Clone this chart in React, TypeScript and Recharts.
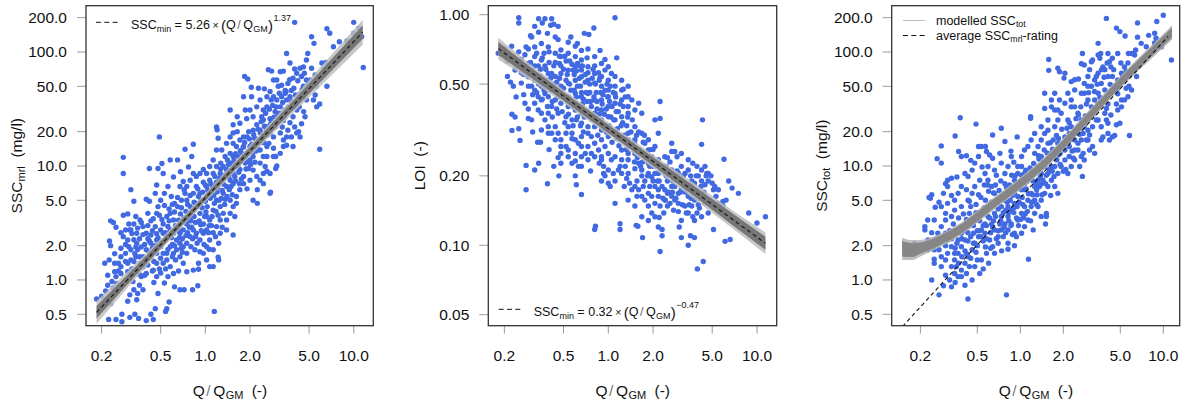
import React from 'react';
import { ComposedChart, Scatter, Area, Line, XAxis, YAxis } from 'recharts';

const FONT = '"Liberation Sans", Arial, Helvetica, sans-serif';
const BLUE = '#4169E1';

const xTicks = [0.2, 0.5, 1, 2, 5, 10];
const sscTicks = [0.5, 1, 2, 5, 10, 20, 50, 100, 200];
const loiTicks = [0.05, 0.1, 0.2, 0.5, 1];

// Panel 1: SSC_mrl vs Q/QGM
const mrlPoints: [number, number][] = [
  [0.185,0.68],[0.223,0.45],[0.25,0.45],[0.274,0.43],[0.274,0.5],[0.31,0.47],[0.335,0.5],[0.355,0.46],[0.40,0.44],[0.43,0.5],[0.446,0.45],[0.46,0.56],[0.54,0.53],[0.55,0.56],[0.57,0.64],[1.15,0.53],[0.3,0.65],[0.345,0.67],
  [0.213,0.8],[0.22,1.1],[0.21,1.4],[0.225,1.5],[0.23,2.0],[0.226,2.2],[0.23,3.3],[0.24,3.2],[0.25,2.9],[0.245,1.4],[0.245,1.7],[0.27,1.9],[0.28,2.4],[0.28,3.7],[0.28,8.6],[0.28,11.9],[0.315,6.2],[0.33,4.9],[0.34,3.6],[0.3,3.8],[0.31,2.75],[0.33,2.25],[0.335,1.7],[0.315,1.5],[0.3,1.4],[0.27,1.14],[0.245,1.18],[0.266,0.9],[0.31,0.74],[0.35,0.76],[0.36,0.9],[0.38,0.82],[0.37,1.07],[0.4,1.14],[0.41,1.35],[0.43,1.6],[0.37,1.95],[0.4,2.57],[0.38,2.94],[0.363,3.36],[0.41,3.84],[0.42,4.9],[0.46,5.75],[0.47,6.8],[0.42,9.5],[0.48,9.5],[0.49,18],[0.51,10.5],[0.52,8.6],[0.58,11.3],[0.61,8],[0.65,11.3],[0.68,8.9],[0.73,14],[0.83,15.5],[0.81,12.1],[0.77,9.8],[0.71,7.3],[0.675,6.6],
  [0.5,2.75],[0.52,3.1],[0.55,3.6],[0.58,3.84],[0.61,3.36],[0.64,2.94],[0.675,2.57],[0.71,2.75],[0.75,3.1],[0.79,3.6],[0.83,4.1],[0.87,4.7],[0.92,3.84],[0.97,3.1],[1.02,2.75],[1.07,3.36],[1.13,4.1],[1.19,5.0],[1.26,4.4],[1.32,5.75],[1.39,6.6],[1.47,7.5],[1.54,8.6],[0.5,1.96],[0.52,1.71],[0.55,1.5],[0.58,1.31],[0.61,1.14],[0.64,1.84],[0.675,1.6],[0.71,1.4],[0.62,0.87],[0.675,0.82],[0.72,0.82],[0.82,0.82],[0.89,0.89],[0.9,1.24],[0.83,1.22],[0.75,1.18],[0.56,1.07],[0.53,0.94],[0.48,0.76],[0.47,1.07],[0.446,1.22],[0.47,1.71],[0.47,2.24],[0.46,2.94],[0.446,3.45],
  [0.92,1.77],[1.02,1.96],[1.07,2.24],[1.13,1.84],[1.23,2.1],[1.13,1.31],[1.23,1.5],[1.13,2.6],[1.26,2.57],[1.39,2.75],[1.54,2.48],[1.58,3.6],[1.54,4.4],[1.47,5.0],[1.62,5.4],[1.71,6.2],[1.81,7.0],[1.91,6.3],[2.0,7.5],[2.1,9.2],[2.22,8.1],[2.46,8.6],[2.6,9.0],[2.73,5.75],[2.24,6.2],[2.0,11.3],[1.91,12.9],[1.81,14.8],[1.71,16.9],[1.91,18],[2.1,14.8],[2.22,16.9],[2.34,13.8],[2.46,12.1],[2.6,14.8],[2.88,14.3],[3.03,10],[2.98,12.1],[2.73,19.5],[2.6,22.1],[2.46,25.3],[2.22,23],[2.1,20.6],[1.96,20],[1.81,18],[1.64,20],[1.54,19.5],[1.47,18],[1.39,15.8],[1.29,13.8],[1.19,13.8],[1.22,17.5],[1.19,22],[1.2,20.8],[1.47,31],[1.9,26],[2.1,27],[2.34,20.6],[1.81,40.5],[2.05,40.5],[1.84,61],[1.93,58],[2.04,49],[2.28,48],[2.5,47.5],[2.66,70],[2.8,68],[2.88,56.8],[3.03,56.8],[3.1,50],[3.27,51],[3.2,67],[3.36,68],[3.53,97],[3.72,80],[4.0,71],[3.9,59],[4.35,72],[4.58,74],[4.8,85],[4.9,97],[5.4,119],[5.2,136],[6.1,80],[6.6,50],[5.5,42],[5.63,33],[5.9,35],[5.35,38],[4.7,27],[4.13,31],[4.35,38],[3.72,40.5],[3.45,43.4],[3.2,33],[2.95,30],[2.78,38],[2.6,33],[2.46,31],[3.9,27],[4.0,22],[4.13,19.5],[4.35,18],[3.72,24],[3.53,18],[3.36,14.8],[3.53,15.2],[3.9,14.8],[3.2,19.5],[2.95,22],[2.73,26],[3.36,25],[4.35,43],[4.58,50],[4.8,56.8],[4.45,61],[4.13,65],[3.8,46],[3.6,53],[4.8,38],[5.1,56.8],[5.9,14],[2.75,5.9],[2.98,9.5],
  [7.3,111],[8.0,123],[9.0,125],[6.9,146],[10,146],[10.8,162],[10.5,127],[11.3,136],[6.5,81],[6.3,71],[5.6,50],[4.0,182],[10.0,182],[6.6,160],[11.6,73],
  [0.22,0.9],[0.235,0.97],[0.25,1.07],[0.253,0.93],[0.26,1.4],[0.27,1.31],[0.29,1.45],[0.29,1.71],[0.305,1.96],[0.3,2.24],[0.29,2.75],[0.305,3.1],[0.315,2.75],[0.33,3.1],[0.345,2.57],[0.345,2.1],[0.315,1.84],[0.363,1.4],[0.38,1.6],[0.4,1.84],[0.345,1.22],[0.325,0.97],[0.31,1.07],[0.29,1.0],[0.41,3.0],[0.43,2.48],[0.43,2.1],[0.47,3.84],[0.48,4.4],[0.5,5.0],[0.53,5.75],[0.56,6.6],[0.59,5.4],[0.62,4.7],[0.65,4.4],[0.69,5.0],[0.73,5.75],[0.75,5.0],[0.79,4.4],[0.83,5.75],[0.87,6.6],[0.92,5.75],[0.97,7.2],[1.02,6.6],[1.07,7.5],[1.13,8.6],[1.19,7.2],[1.26,8.6],[1.32,9.9],[1.39,9.3],[1.47,10.6],[1.54,12.1],[1.62,10.6],[1.71,9.3],[1.81,8.1],[1.54,7.0],[1.62,4.7],[1.47,3.84],[1.39,3.36],[1.32,3.84],[1.26,3.36],[1.19,2.94],[1.02,3.6],[0.97,2.57],[0.92,2.24],[0.87,2.57],[0.83,2.75],[0.79,2.4],[0.75,2.1],[0.71,1.96],[0.675,2.1],[0.64,2.24],[0.61,2.57],[0.58,2.75],[0.55,2.4],[0.52,2.57],[0.58,1.96],[0.61,1.71],[0.55,1.71],[0.75,1.71],[0.8,1.96],[0.85,1.84],[0.9,1.4],[0.97,1.71],[1.02,1.5],[1.06,1.86],[1.22,1.58],[1.07,1.31],[0.4,5.1],
  [2.1,5.0],[2.24,4.7],[2.34,7.5],[2.46,7.0],[2.53,9.9],[2.73,8.6],[2.88,12.1],[3.2,12.9],[3.36,16.9],[3.6,20.6],[3.8,18],[4.25,20],[4.45,23.5],[4.6,30],[3.9,35],[3.53,38],[3.45,31],[3.03,27],[2.88,18],[2.6,12.1],[2.34,10.6],[2.1,12.1],[1.96,9.5],[1.86,10.6],[1.76,12.9],[1.62,14.8],[1.54,15.8],[1.47,12.9],[1.36,12.1],[1.27,10.6],[1.19,9.9],[1.13,11.3],[1.07,9.9],[1.02,8.6],[0.97,9.3],[0.92,8.6],[0.87,8.1],[0.83,8.6],[0.79,7.5],[0.75,6.6],[1.54,23],[1.71,23.7],[1.64,27],[1.86,31],[2.0,31],[2.22,33],[2.34,38],[2.4,27],[2.6,40.5],[2.73,45],[2.88,40.5],[3.03,38],[3.27,40.5],[3.45,46],
];
const mrlPointsCore: [number, number][] = [
  [0.32,1.25],[0.34,1.6],[0.36,2.3],[0.38,1.3],[0.39,2.05],[0.42,1.75],[0.44,2.7],[0.45,1.45],[0.48,2.35],[0.49,1.25],[0.51,3.4],[0.53,2.2],[0.54,1.25],[0.56,2.95],[0.57,4.2],[0.6,2.05],[0.62,3.95],[0.63,1.5],[0.66,3.35],[0.67,2.35],[0.69,4.3],[0.7,1.75],[0.72,3.5],[0.74,2.45],[0.76,4.6],[0.78,2.9],[0.8,3.3],[0.82,2.3],[0.84,4.8],[0.86,3.2],[0.88,2.1],[0.9,5.4],[0.93,3.05],[0.95,4.3],[0.98,2.05],[1.0,4.9],[1.01,3.95],[1.04,6.1],[1.05,2.6],[1.08,5.2],[1.1,3.0],[1.12,6.6],[1.15,4.7],[1.17,2.4],[1.2,5.9],[1.22,3.7],[1.25,7.8],[1.28,5.2],[1.3,2.9],[1.33,6.9],[1.35,4.6],[1.37,8.4],[1.4,5.4],[1.43,10.3],[1.45,6.2],[1.5,9.2],[1.52,5.6],[1.56,11.1],[1.6,7.4],[1.65,12.2],[1.68,8.8],[1.72,13.6],[1.75,7.7],[1.78,11.6],[1.84,16.1],[1.88,9.4],[1.93,13.2],[1.98,17.3],[2.02,10.3],[2.06,15.5],[2.12,18.8],[2.16,10.8],[2.2,13.5],[2.27,21.0],[2.3,15.8],[2.38,24.5],[2.43,17.8],[2.5,22.3],[2.55,29],[2.62,18.7],[2.7,31.5],[2.76,23.6],[2.84,34],[2.9,26.8],[3.0,33],[3.08,24.5],[3.15,43.5],[3.25,29],[3.32,36],[3.42,27],[3.5,45],[3.62,33],[3.7,57],[3.82,37],[3.95,48],[4.05,42],[4.2,56],[4.3,33],[4.5,47],[4.65,65],[4.95,52],[5.2,72],[5.5,63],
  [0.2,0.72],[0.23,0.62],[0.24,0.85],[0.26,1.2],[0.27,1.6],[0.28,0.95],[0.3,1.18],[0.33,0.82],[0.36,1.12],[0.27,2.6],[0.29,2.05],[0.32,2.55],[0.34,1.95],[0.35,2.85],[0.37,3.2],[0.42,2.2],[0.44,1.9],[0.5,1.15],[0.45,0.95],[0.52,1.4],
  [0.41,2.3],[0.43,3.3],[0.46,2.0],[0.47,2.55],[0.49,3.7],[0.5,1.55],[0.51,2.15],[0.53,4.5],[0.54,2.6],[0.56,1.85],[0.57,3.3],[0.59,2.35],[0.6,4.6],[0.62,2.0],[0.63,3.0],[0.65,5.3],[0.66,2.7],[0.68,3.8],[0.69,1.9],[0.71,3.4],[0.72,6.2],[0.74,4.0],[0.76,2.6],[0.77,3.4],[0.79,5.5],[0.81,2.9],[0.82,4.2],[0.84,3.6],[0.86,2.4],[0.88,4.4],[0.89,6.3],[0.91,3.3],[0.93,4.9],[0.94,2.7],[0.96,5.9],[0.99,3.6],[1.0,6.8],[1.03,4.4],[1.05,5.7],[1.06,3.0],[1.09,7.0],[1.11,3.6],[1.14,5.5],[1.16,8.1],[1.18,4.0],[1.21,6.5],[1.24,5.0],[1.27,9.4],[1.3,6.1],[1.34,7.9],[1.36,5.1],[1.41,11.3],[1.44,8.1],[1.49,6.6],[1.53,10.2],[1.58,8.1],[1.6,12.8],[1.66,10.0],[1.7,7.0],[1.74,11.0],[1.8,14.6],[1.85,12.0],[1.95,11.0],[2.0,14.8],[2.08,12.9],[2.15,17.5],[2.25,14.0],[2.35,19.5],[2.48,16.0],[2.58,20.5],[2.68,15.8],[2.8,25],[3.1,29],[3.3,22],[0.36,1.6],[0.38,2.5],[0.39,1.1],[0.33,1.45],[0.35,1.85],[0.44,1.2],[0.47,1.4],[0.6,1.6],[0.66,1.2],[0.7,2.3],
];

// Panel 2: LOI vs Q/QGM
const loiPoints: [number, number][] = [
  [0.25,0.97],[0.25,0.92],[0.34,0.96],[0.375,0.96],[0.416,0.96],[1.11,0.97],[0.8,0.875],[0.74,0.82],[0.41,0.9],[0.43,0.91],[0.46,0.89],[0.36,0.92],[0.305,0.8],[0.34,0.84],[0.32,0.89],[0.39,0.83],[0.44,0.8],[0.46,0.78],[0.538,0.76],[0.6,0.73],[0.66,0.7],[0.73,0.71],[0.88,0.7],[1.14,0.65],[0.95,0.64],[0.81,0.6],[0.72,0.65],[0.62,0.615],[0.58,0.575],[0.52,0.63],[0.47,0.615],
  [0.182,0.68],[0.2,0.71],[0.224,0.73],[0.21,0.54],[0.22,0.51],[0.23,0.49],[0.24,0.6],[0.26,0.64],[0.275,0.67],[0.29,0.71],[0.25,0.69],[0.275,0.6],[0.29,0.49],[0.305,0.49],[0.32,0.52],[0.275,0.413],[0.225,0.37],[0.236,0.36],[0.225,0.315],[0.25,0.32],[0.255,0.285],[0.29,0.355],[0.305,0.35],[0.28,0.222],[0.28,0.174],[0.32,0.212],[0.34,0.227],[0.335,0.28],[0.39,0.185],[0.43,0.22],[0.465,0.2],[0.48,0.227],[0.57,0.227],[0.6,0.2],[0.61,0.183],[0.66,0.166],[0.66,0.22],[0.81,0.117],[0.82,0.121],[0.87,0.227],[0.93,0.205],[1.0,0.186],[1.11,0.152],[1.2,0.124],[1.2,0.117],[1.54,0.122],[1.58,0.121],[1.7,0.108],[2.23,0.094],[2.3,0.11],[2.3,0.117],[2.17,0.12],[3.1,0.108],[3.45,0.1],[3.57,0.11],[3.8,0.108],[3.97,0.079],[4.35,0.085],[6.1,0.104],[6.6,0.106],[8.8,0.138],[10,0.125],[11.4,0.133],[7.5,0.168],[6.8,0.177],[6.0,0.236],[6.45,0.19],[6.2,0.157],[5.9,0.155],[5.5,0.174],[5.1,0.174],[4.7,0.205],[4.47,0.22],[4.24,0.274],[4.3,0.35],[5.1,0.117],[4.7,0.138],[4.24,0.133],[3.8,0.128],[3.45,0.138],[3.1,0.128],[3.0,0.12],[2.96,0.14],[2.8,0.157],[2.67,0.18],[2.5,0.19],[2.4,0.205],[2.3,0.18],[2.17,0.163],[2.06,0.152],[1.96,0.138],[1.86,0.148],[1.76,0.157],[1.68,0.163],[1.6,0.174],[1.51,0.18],[1.44,0.174],[1.36,0.157],[1.51,0.148],[1.68,0.133],[1.86,0.128],[2.06,0.133],[2.23,0.148],[2.4,0.157],[2.6,0.152],[2.8,0.18],[3.1,0.19],[3.28,0.205],[3.45,0.212],[3.64,0.19],[3.8,0.186],[4.03,0.2],[4.24,0.19],[4.47,0.183],[3.8,0.157],[3.45,0.163],[3.28,0.148],[3.64,0.148],[4.03,0.15],[3.1,0.22],[2.9,0.242],[2.67,0.255],[2.4,0.242],[2.17,0.235],[2.0,0.22],[1.86,0.205],[1.76,0.19],[1.68,0.212],[1.6,0.227],[1.51,0.215],[1.36,0.205],[1.3,0.22],[1.23,0.235],[1.17,0.212],[1.11,0.19],[1.05,0.235],[1.0,0.25],[0.95,0.268],[0.9,0.242],[0.86,0.259],[0.81,0.277],[0.77,0.296],[0.73,0.268],[0.7,0.25],[0.66,0.268],[0.63,0.277],[0.6,0.287],[0.57,0.306],[0.538,0.327],[0.52,0.306],[0.48,0.287],[0.46,0.306],[0.44,0.327],[0.416,0.306],[0.395,0.327],[0.375,0.35],[0.355,0.374],[0.338,0.386],[0.32,0.413],[0.355,0.427],[0.395,0.441],[0.44,0.427],[0.48,0.413],[0.538,0.4],[0.6,0.386],[0.66,0.374],[0.73,0.361],[0.81,0.374],[0.9,0.386],[1.0,0.4],[1.11,0.413],[1.23,0.427],[1.36,0.441],[1.36,0.374],[1.23,0.361],[1.11,0.35],[1.0,0.327],[0.9,0.316],[0.81,0.327],[0.73,0.327],[0.66,0.338],[0.61,0.35],[1.11,0.306],[1.23,0.287],[1.36,0.306],[1.51,0.327],[1.68,0.306],[1.86,0.287],[2.06,0.35],[2.17,0.306],[2.23,0.355],[2.23,0.42],[2.06,0.268],[1.86,0.259],[1.68,0.25],[1.51,0.259],[1.36,0.25],[1.23,0.259],[1.36,0.287],[1.51,0.287],[1.68,0.374],[1.51,0.386],[1.36,0.4],[1.23,0.471],[1.11,0.49],[1.0,0.471],[0.9,0.49],[0.81,0.505],[0.73,0.52],[0.66,0.538],[0.6,0.52],[0.538,0.505],[0.48,0.49],[0.44,0.471],[0.395,0.505],[0.355,0.49],[0.32,0.471],[0.395,0.556],[0.44,0.54],[0.48,0.556],[0.538,0.575],[0.6,0.595],[0.66,0.575],[0.73,0.595],[0.81,0.556],[0.9,0.54],[1.0,0.52],[1.05,0.556],[0.95,0.575],[0.88,0.535],[1.11,0.54],[1.23,0.52],[1.3,0.44],[1.44,0.427],[1.6,0.413],[1.36,0.49],[1.26,0.475],[0.355,0.636],[0.32,0.658],[0.29,0.615],[0.44,0.68],[0.48,0.703],[0.538,0.68],[0.6,0.658],[0.66,0.636],[0.81,0.658],[0.9,0.615],[1.0,0.595],[0.395,0.725],[0.355,0.75],[0.32,0.725],[0.3,0.81],[0.28,0.725],[0.56,0.8],[0.62,0.75],[0.69,0.83],[0.48,0.658],[0.416,0.556],[0.375,0.6],[0.338,0.6],[0.305,0.575],[0.29,0.538],[0.26,0.505],[0.236,0.575],[0.32,0.538],[0.355,0.52],[0.375,0.455],[0.338,0.441],[0.416,0.4],[0.46,0.374],[0.52,0.361],[0.57,0.35],[0.395,0.374],[0.355,0.316],[0.395,0.306],[0.44,0.287],[0.48,0.268],[0.538,0.259],[0.6,0.25],[0.66,0.296],[0.73,0.306],[0.9,0.287],[1.0,0.296],[1.0,0.361],[0.9,0.35],[0.81,0.427],[0.9,0.427],[1.0,0.441],[1.11,0.455],[0.73,0.455],[0.66,0.441],[0.6,0.455],[0.538,0.441],[0.48,0.455],[0.9,0.235],[1.0,0.212],[1.11,0.242],[1.23,0.205],[1.36,0.235],[1.51,0.25],[1.76,0.277],[1.96,0.242],[1.76,0.242],[1.86,0.227],[1.96,0.198],[2.17,0.205],[2.06,0.18],[1.9,0.18],[1.72,0.18],[1.56,0.19],[1.96,0.163],[1.86,0.168],[2.17,0.174],[2.4,0.174],[2.5,0.168],[2.67,0.163],[2.96,0.168],[3.1,0.174],[3.28,0.18],[2.8,0.2],[2.96,0.205],[2.67,0.212],[2.45,0.22],[2.67,0.277],[2.8,0.255],[3.1,0.25],[3.45,0.235],[3.7,0.227],[3.95,0.22],[4.24,0.212],[4.6,0.205],[4.7,0.19],[5.0,0.186],[5.3,0.163],[5.5,0.152],[5.9,0.148],[5.0,0.148],[4.7,0.157],[4.47,0.152],[4.1,0.145],[3.95,0.138],[3.7,0.133],[3.35,0.138],[2.96,0.152],[2.75,0.142],[2.5,0.148],[2.36,0.138],[2.2,0.132],[2.42,0.157],[2.06,0.205],[1.68,0.2],[1.56,0.163],[1.39,0.186],[1.33,0.195],[1.28,0.18],[1.2,0.22],[1.08,0.205],[1.03,0.18],[0.93,0.22],[0.9,0.19],[0.81,0.242],[0.77,0.25],[0.73,0.235],[0.66,0.242],[0.6,0.232],[0.538,0.242],[0.48,0.25],[0.52,0.268],
];
const loiPointsCore: [number, number][] = [
  [0.27,0.55],[0.3,0.62],[0.31,0.45],[0.33,0.68],[0.34,0.5],[0.35,0.58],[0.36,0.43],[0.37,0.68],[0.38,0.52],[0.4,0.62],[0.41,0.47],[0.42,0.36],[0.43,0.6],[0.45,0.51],[0.45,0.39],[0.47,0.66],[0.49,0.45],[0.5,0.58],[0.51,0.34],[0.52,0.52],[0.53,0.42],[0.55,0.63],[0.56,0.47],[0.57,0.29],[0.58,0.4],[0.59,0.55],[0.61,0.44],[0.62,0.36],[0.64,0.6],[0.65,0.49],[0.67,0.41],[0.68,0.31],[0.7,0.55],[0.71,0.46],[0.72,0.38],[0.75,0.5],[0.76,0.42],[0.78,0.35],[0.79,0.58],[0.83,0.46],[0.84,0.39],[0.85,0.3],[0.87,0.52],[0.92,0.45],[0.94,0.37],[0.97,0.31],[0.98,0.5],[1.02,0.42],[1.04,0.36],[1.06,0.28],[1.08,0.46],[1.13,0.38],[1.15,0.32],[1.18,0.27],[1.2,0.41],[1.25,0.34],[1.28,0.3],[1.32,0.26],[1.35,0.36],[1.42,0.31],[1.46,0.27],[1.5,0.23],[1.55,0.3],[1.62,0.26],[1.65,0.22],[1.72,0.28],[1.8,0.24],[1.84,0.2],[1.92,0.26],[2.0,0.19],[2.1,0.23],[2.14,0.19],[2.25,0.21],[2.33,0.16],[2.45,0.2],[2.55,0.17],[2.6,0.23],[2.72,0.19],[2.85,0.16],[2.9,0.21],[3.05,0.17],[3.15,0.15],[3.2,0.2],[3.38,0.18],[3.5,0.15],[3.58,0.2],[3.72,0.17],[3.9,0.2],[4.0,0.17],[4.15,0.16],[4.4,0.17],[4.55,0.2],[4.9,0.2],[5.2,0.18],
  [0.24,0.44],[0.27,0.45],[0.29,0.39],[0.31,0.31],[0.26,0.56],[0.23,0.66],[0.21,0.63],[0.35,0.28],[0.4,0.26],[0.46,0.24],[0.63,0.22],[0.76,0.21],[0.95,0.2],
  [0.3,0.55],[0.32,0.6],[0.33,0.46],[0.35,0.54],[0.36,0.65],[0.37,0.47],[0.38,0.58],[0.39,0.4],[0.4,0.69],[0.41,0.53],[0.42,0.42],[0.43,0.5],[0.44,0.62],[0.46,0.44],[0.47,0.53],[0.48,0.6],[0.49,0.38],[0.5,0.48],[0.51,0.66],[0.52,0.44],[0.53,0.55],[0.54,0.37],[0.55,0.5],[0.56,0.42],[0.57,0.61],[0.58,0.33],[0.59,0.47],[0.6,0.41],[0.61,0.57],[0.62,0.49],[0.63,0.39],[0.64,0.53],[0.65,0.33],[0.66,0.46],[0.67,0.6],[0.68,0.43],[0.69,0.36],[0.7,0.51],[0.72,0.42],[0.73,0.56],[0.74,0.37],[0.75,0.46],[0.77,0.4],[0.78,0.53],[0.8,0.44],[0.81,0.35],[0.82,0.5],[0.84,0.42],[0.86,0.56],[0.87,0.37],[0.89,0.46],[0.91,0.41],[0.93,0.33],[0.95,0.47],[0.97,0.39],[0.99,0.44],[1.01,0.33],[1.03,0.49],[1.06,0.4],[1.09,0.35],[1.12,0.44],[1.15,0.29],[1.17,0.38],[1.22,0.33],[1.26,0.4],[1.3,0.29],[1.33,0.33],[1.38,0.27],[1.45,0.35],[1.5,0.28],[1.57,0.24],[1.6,0.31],[1.7,0.23],[1.75,0.3],[1.9,0.22],[2.0,0.26],[2.2,0.19],[2.35,0.22],[2.5,0.24],[2.7,0.17],[3.0,0.19],[3.3,0.17],[3.6,0.16],[4.2,0.18],
];

// Panel 3: SSC_tot vs Q/QGM
const totPoints: [number, number][] = [
  [0.182,2.1],[0.27,0.74],[0.43,0.68],[0.8,0.74],[0.24,1.0],[0.29,0.89],[0.33,0.87],[0.32,1.0],[0.28,1.31],[0.25,1.4],[0.25,1.52],[0.27,1.84],[0.226,1.84],[0.226,2.24],[0.215,2.75],[0.215,2.94],[0.225,3.36],[0.235,5.2],[0.24,5.6],[0.23,5.3],[0.254,4.35],[0.25,3.36],[0.262,11.6],[0.28,10.6],[0.28,15],[0.35,18.3],[0.38,26.5],[0.49,23.3],[0.37,13.4],[0.387,12.1],[0.42,12.3],[0.3,7.0],[0.31,7.5],[0.33,7.8],[0.31,6.6],[0.29,5.75],[0.28,4.4],[0.3,3.84],[0.31,4.7],[0.347,5.0],[0.367,5.75],[0.387,6.6],[0.41,8.6],[0.431,8.1],[0.46,9.2],[0.48,10.6],[0.51,12.1],[0.51,14.8],[0.534,14.8],[0.58,13.4],[0.61,12.5],[0.64,11.7],[0.64,18.7],[0.78,16.4],[0.95,18],[0.736,21.4],[0.57,14.8],[0.594,9.9],[0.66,9.2],[0.736,10.6],[0.78,8.6],[0.82,9.9],[0.865,12.1],[0.96,9.9],[1.02,12.1],[1.07,13.8],[1.13,14.8],[1.19,16.9],[1.26,19.3],[1.18,26.2],[1.18,27],[1.4,22.1],[1.48,19.3],[1.56,25.3],[1.48,43.4],[1.65,37.9],[1.74,31],[1.48,32],[1.58,86],[1.58,69],[1.83,72],[1.88,67],[2.05,65],[2.02,59],[2.27,55],[2.4,57],[2.55,58],[2.67,79],[2.72,97],[2.8,77],[3.14,82],[3.2,85],[3.5,94],[3.6,88],[3.5,119],[3.65,97],[4.0,197],[4.05,80],[3.9,70],[4.1,61],[4.4,61],[4.7,162],[4.97,151],[4.8,97],[5.4,138],[5.7,97],[5.66,80],[6.3,94],[6.6,180],[6.6,135],[6.2,97],[6.5,61],[5.75,50],[6.0,46.5],[5.66,40.5],[5.35,38],[5.1,33],[4.8,31],[4.3,28],[4.1,23.7],[4.7,23],[4.97,23.7],[4.4,18],[4.57,18.5],[3.78,18],[3.68,16.9],[3.05,18.7],[2.9,16.9],[2.75,12.9],[2.8,11.3],[2.72,8.1],[2.4,11.3],[2.67,12.1],[2.53,13.8],[2.27,9.9],[2.15,8.6],[2.05,11.3],[1.93,9.9],[1.83,8.6],[1.74,9.9],[1.65,12.9],[1.56,15.8],[1.7,16.9],[1.83,15.8],[1.93,14.8],[2.05,18],[2.2,19.3],[2.4,16.9],[2.53,22.1],[2.67,25.3],[2.53,29],[2.4,33],[2.27,37.9],[2.15,43.4],[2.8,43.4],[2.97,37.9],[3.14,50],[3.31,56.8],[3.5,65],[3.68,53],[3.9,46.5],[3.5,43.4],[3.14,33],[3.31,29],[3.5,25.3],[3.9,29],[4.1,35],[4.3,43.4],[4.57,50],[4.8,56.8],[5.1,65],[5.35,74],[3.68,37.9],[2.97,25.3],[2.8,22.1],[2.53,19.3],[2.27,22.1],[2.15,25.3],[1.93,29],[1.83,25.3],[1.74,22.1],[1.56,20.6],[1.4,16.9],[1.33,14.8],[1.26,12.9],[1.4,12.1],[1.48,9.9],[1.56,8.6],[1.65,7.5],[1.74,6.6],[1.83,5.75],[1.56,6.6],[1.48,5.75],[1.4,5.0],[1.33,4.4],[1.26,3.84],[1.4,3.6],[1.52,3.84],[1.52,3.6],[1.5,3.1],[1.14,1.52],[1.23,2.75],[1.13,3.36],[1.07,2.94],[1.02,2.57],[0.94,2.4],[0.91,2.0],[0.82,1.86],[0.74,1.8],[0.76,2.4],[0.82,2.75],[0.865,3.1],[0.96,3.36],[1.02,3.84],[1.07,4.4],[1.13,5.0],[1.19,5.75],[1.26,6.6],[1.33,7.5],[1.4,8.6],[1.33,9.9],[1.19,9.2],[1.13,8.1],[1.07,7.0],[1.02,6.2],[0.96,5.4],[0.91,4.7],[0.865,4.1],[0.82,3.6],[0.78,3.1],[0.736,2.75],[0.7,2.4],[0.66,2.75],[0.63,3.1],[0.594,3.6],[0.566,3.1],[0.534,2.75],[0.51,2.4],[0.48,2.1],[0.46,1.84],[0.431,1.6],[0.41,1.4],[0.387,1.22],[0.367,1.07],[0.347,1.14],[0.33,1.31],[0.347,1.5],[0.367,1.71],[0.387,1.96],[0.41,2.24],[0.387,2.57],[0.367,2.24],[0.33,1.96],[0.31,1.71],[0.3,1.5],[0.31,2.24],[0.3,2.57],[0.28,2.94],[0.265,2.57],[0.25,2.24],[0.24,1.96],[0.25,1.84],[0.3,3.36],[0.33,3.6],[0.347,4.1],[0.387,4.4],[0.431,5.0],[0.46,5.75],[0.48,6.6],[0.52,7.5],[0.566,8.6],[0.594,7.5],[0.63,6.6],[0.66,5.75],[0.7,5.0],[0.736,4.4],[0.78,5.0],[0.82,5.75],[0.865,6.6],[0.91,7.5],[0.96,8.6],[1.02,9.9],[1.07,8.6],[1.02,7.5],[0.91,5.75],[0.82,4.4],[0.736,3.6],[0.66,3.84],[0.594,4.4],[0.534,3.84],[0.48,3.36],[0.44,3.84],[0.431,2.94],[0.47,2.57],[0.566,2.57],[0.61,2.24],[0.64,1.96],[0.58,1.71],[0.534,1.5],[0.52,1.14],[0.48,1.31],[0.44,1.31],[0.46,1.0],[0.42,1.14],[0.387,1.07],[0.357,1.31],[0.347,1.71],[0.66,1.71],[0.7,2.1],[0.82,2.1],[0.91,2.57],[1.19,4.4],[1.26,5.0],[1.3,6.2],[1.36,6.6],[1.44,7.5],[1.65,9.9],[1.8,11.3],[1.9,12.9],[2.05,13.8],[2.2,14.8],[2.2,12.1],[2.4,13.8],[2.6,9.9],[2.53,15.8],[2.75,19.3],[2.97,20.6],[3.2,22.1],[3.4,25.3],[3.68,22.1],[4.0,25.3],[4.1,19.3],[4.2,16.9],[3.31,37.9],[2.97,50],[2.67,43.4],[2.4,46.5],[2.27,33],[2.05,35.5],[1.88,37.9],[1.74,43.4],[1.83,31],[1.65,33],[2.97,16.9],[3.2,14.8],[3.31,12.9],[3.05,13.8],[2.67,16.9],[5.8,18.5],
  [8.7,120],[9.7,111],[8.9,132],[7.9,140],[7.6,111],[7.0,119],[8.7,146],[10,210],[9.0,185],[11.4,85],[6.0,97],[6.4,104],[5.8,65],[5.35,57],[5.5,48],[4.8,43],[5.1,38],[4.7,35],[5.2,61],[4.1,97],[4.3,74],[4.2,82],[4.4,88],[3.78,74],[3.7,70],[3.4,61],[2.97,61],[3.05,70],[2.8,53],
];
const totPointsCore: [number, number][] = [
  [0.32,2.7],[0.34,3.1],[0.36,2.1],[0.37,3.5],[0.39,1.6],[0.4,2.7],[0.42,3.4],[0.43,2.2],[0.45,4.4],[0.45,1.55],[0.47,3.0],[0.49,4.6],[0.5,2.0],[0.52,3.3],[0.53,5.3],[0.55,2.2],[0.56,4.3],[0.58,3.0],[0.6,6.0],[0.62,2.6],[0.63,4.8],[0.65,3.3],[0.67,6.8],[0.68,2.3],[0.7,4.2],[0.72,3.1],[0.73,7.4],[0.75,5.3],[0.77,2.9],[0.79,4.1],[0.8,6.5],[0.83,3.3],[0.85,5.0],[0.87,8.3],[0.88,2.5],[0.9,3.9],[0.93,6.3],[0.95,4.4],[0.97,3.0],[0.99,7.3],[1.03,5.3],[1.05,3.5],[1.09,9.2],[1.1,6.3],[1.12,4.0],[1.16,7.6],[1.18,3.3],[1.22,5.6],[1.24,10.5],[1.28,7.0],[1.3,4.6],[1.35,11.5],[1.38,8.0],[1.42,5.6],[1.46,10.8],[1.5,7.0],[1.54,13.0],[1.6,9.3],[1.63,5.5],[1.68,14.0],[1.72,8.1],[1.77,11.8],[1.85,17.4],[1.9,10.3],[1.98,15.4],[2.08,9.3],[2.12,21.4],[2.25,17.0],[2.35,11.7],[2.45,26.0],[2.6,19.0],[2.65,33],[2.85,27.5],[3.0,44],[3.25,31],[3.45,52],[3.6,40],[3.85,60],[4.0,32],[4.25,52],[4.5,70],[4.8,48],[5.05,80],[5.5,68],
  [0.3,2.0],[0.28,1.6],[0.26,2.3],[0.24,2.6],[0.3,1.1],[0.35,0.95],[0.41,0.9],[0.5,1.5],[0.55,1.25],[0.6,1.4],[0.27,4.8],[0.33,5.5],[0.36,8.0],[0.42,6.2],[0.45,11.2],[0.54,9.8],[0.56,6.8],[0.68,8.3],[0.72,12.9],[0.86,13.5],[0.9,10.8],
  [0.38,2.9],[0.4,3.8],[0.41,1.8],[0.43,2.6],[0.44,4.9],[0.46,3.3],[0.47,2.1],[0.49,3.9],[0.5,2.7],[0.51,5.6],[0.53,2.4],[0.54,4.0],[0.55,3.0],[0.57,5.0],[0.58,2.3],[0.59,6.8],[0.61,3.5],[0.62,4.6],[0.64,2.9],[0.65,5.8],[0.67,3.6],[0.69,4.8],[0.7,2.7],[0.71,6.1],[0.73,3.3],[0.74,5.2],[0.76,3.9],[0.78,7.0],[0.79,2.6],[0.81,4.8],[0.83,3.9],[0.84,6.8],[0.86,3.0],[0.88,5.5],[0.9,4.3],[0.92,8.2],[0.94,3.5],[0.96,6.6],[0.98,4.8],[1.0,3.4],[1.02,8.3],[1.04,4.6],[1.06,6.2],[1.08,3.8],[1.11,7.3],[1.14,5.7],[1.17,9.6],[1.2,4.8],[1.23,7.4],[1.27,8.9],[1.31,5.6],[1.34,12.3],[1.39,6.9],[1.43,9.8],[1.47,13.8],[1.52,8.3],[1.57,11.0],[1.62,16.0],[1.67,9.0],[1.73,13.0],[1.79,18.5],[1.86,12.6],[1.95,21.0],[2.0,9.0],[2.1,16.0],[2.2,24.0],[2.3,13.5],[2.4,20.0],[2.55,28.0],[2.7,21.5],[2.9,35],[3.1,27],[3.3,45],[3.5,35],[0.33,2.3],[0.35,1.9],[0.37,1.4],[0.39,2.3],[0.42,1.7],[0.45,2.4],[0.49,1.75],[0.52,2.7],[0.57,1.95],[0.62,1.9],
];

// Fitted rating bands: x, inner band (dark), outer band (light)
const mrlBandX = [0.185, 0.3, 0.5, 1, 2, 4, 7, 11.5];
const mrlInnerLo = [0.458, 0.92, 1.9, 4.97, 12.7, 32.0, 67.5, 130];
const mrlInnerHi = [0.59, 1.11, 2.19, 5.57, 14.6, 38.5, 84.9, 171];
const mrlOuterLo = [0.413, 0.86, 1.82, 4.8, 12.1, 29.9, 61.5, 116];
const mrlOuterHi = [0.655, 1.19, 2.29, 5.76, 15.3, 41.2, 93.1, 192];
const mrlLineX = [0.185, 11.5];
const mrlLineY = [0.52, 149];

const loiBandX = [0.182, 0.3, 0.5, 1, 2, 4, 7, 11.4];
const loiInnerLo = [0.668, 0.535, 0.425, 0.307, 0.222, 0.159, 0.121, 0.0956];
const loiInnerHi = [0.761, 0.592, 0.462, 0.333, 0.241, 0.176, 0.136, 0.109];
const loiOuterLo = [0.64, 0.519, 0.415, 0.3, 0.216, 0.154, 0.117, 0.0916];
const loiOuterHi = [0.794, 0.61, 0.473, 0.341, 0.247, 0.181, 0.14, 0.1136];
const loiLineX = [0.182, 11.4];
const loiLineY = [0.713, 0.102];

const totBandX = [0.149, 0.175, 0.2, 0.25, 0.3, 0.4, 0.5, 0.7, 1.0, 1.5, 2.0, 3.0, 5.0, 7.0, 10, 11.5];
const totInnerLo = [1.61, 1.59, 1.70, 1.91, 2.14, 2.65, 3.28, 4.56, 6.39, 9.85, 14.1, 24.6, 49.3, 74.5, 114, 133];
const totInnerHi = [2.20, 2.10, 2.13, 2.31, 2.59, 3.18, 3.95, 5.48, 7.67, 11.8, 17.0, 29.6, 59.2, 90.2, 138, 164];
const totOuterLo = [1.50, 1.50, 1.61, 1.83, 2.06, 2.56, 3.17, 4.41, 6.17, 9.52, 13.7, 23.8, 47.6, 71.9, 109, 128];
const totOuterHi = [2.35, 2.23, 2.24, 2.42, 2.68, 3.29, 4.09, 5.68, 7.95, 12.3, 17.6, 30.6, 61.3, 93.5, 144, 172];
const totLineX = [0.15, 10.8];
const totLineY = [0.391, 137];

const toXY = (pts: [number, number][]) => pts.map(([x, y]) => ({ x, y }));
const toBand = (xs: number[], ilo: number[], ihi: number[], olo: number[], ohi: number[]) =>
  xs.map((x, i) => ({ x, inner: [ilo[i], ihi[i]], outer: [olo[i], ohi[i]] }));
const toLine = (xs: number[], ys: number[]) => xs.map((x, i) => ({ x, y: ys[i] }));

const Dot = (props: any) => {
  const { cx, cy } = props;
  if (cx == null || cy == null || isNaN(cx) || isNaN(cy)) return null;
  return <circle cx={cx} cy={cy} r={2.7} fill={BLUE} />;
};

const PLOT_TOP = 5.7;
const PLOT_BOTTOM = 325.7;

type PanelProps = {
  left: number;
  plotLeft: number;
  plotRight: number;
  xDomain: [number, number];
  yDomain: [number, number];
  yTicks: number[];
  yDigits: number;
  points: [number, number][];
  band: any[];
  bandType: 'linear' | 'monotone';
  innerFill: string;
  outerFill: string;
  line: any[];
  lineColor: string;
};

function Panel(p: PanelProps) {
  const W = 395;
  const yAxisW = 60;
  const xAxisH = 40;
  const margin = {
    top: PLOT_TOP,
    bottom: 406 - PLOT_BOTTOM - xAxisH,
    left: p.plotLeft - p.left - yAxisW,
    right: W - (p.plotRight - p.left),
  };
  const tickStyle = { fontSize: 15.5, fontFamily: FONT, fill: '#111' };
  return (
    <div style={{ position: 'absolute', left: p.left, top: 0, width: W, height: 406 }}>
      <ComposedChart width={W} height={406} margin={margin}>
        <XAxis
          dataKey="x"
          type="number"
          scale="log"
          domain={p.xDomain}
          allowDataOverflow
          ticks={xTicks}
          interval={0}
          tickFormatter={(v: number) => v.toFixed(1)}
          axisLine={false}
          tickLine={{ stroke: '#9a9a9a' }}
          tickSize={8}
          tickMargin={16}
          height={xAxisH}
          tick={tickStyle}
        />
        <YAxis
          dataKey="y"
          type="number"
          scale="log"
          domain={p.yDomain}
          allowDataOverflow
          ticks={p.yTicks}
          interval={0}
          tickFormatter={(v: number) => v.toFixed(p.yDigits)}
          axisLine={false}
          tickLine={{ stroke: '#9a9a9a' }}
          tickSize={9}
          tickMargin={10}
          width={yAxisW}
          tick={tickStyle}
        />
        <Scatter data={toXY(p.points)} dataKey="y" shape={Dot} isAnimationActive={false} zIndex={100} />
        <Area
          data={p.band}
          dataKey="outer"
          type={p.bandType}
          stroke="none"
          fill={p.outerFill}
          fillOpacity={0.85}
          isAnimationActive={false}
          zIndex={200}
        />
        <Area
          data={p.band}
          dataKey="inner"
          type={p.bandType}
          stroke="none"
          fill={p.innerFill}
          fillOpacity={1}
          isAnimationActive={false}
          zIndex={210}
        />
        <Line
          data={p.line}
          dataKey="y"
          type="linear"
          stroke={p.lineColor}
          strokeWidth={1.1}
          strokeDasharray="4 3"
          dot={false}
          activeDot={false}
          isAnimationActive={false}
          zIndex={300}
        />
      </ComposedChart>
    </div>
  );
}

const T = (props: any) => <text fontFamily={FONT} fill="#111" {...props} />;

function FormulaLegend({ x, y, coef, exp }: { x: number; y: number; coef: string; exp: string }) {
  const fs = 12.5;
  const sub = 9;
  return (
    <g>
      <line x1={x - 35} x2={x - 13.3} y1={y - 6.7} y2={y - 6.7} stroke="#111" strokeWidth={1} strokeDasharray="5 3.3" />
      <T x={x} y={y} fontSize={fs}>SSC</T>
      <T x={x + 25.7} y={y + 3} fontSize={sub}>min</T>
      <T x={x + 43.5} y={y} fontSize={fs}>=</T>
      <T x={x + 54.5} y={y} fontSize={fs}>{coef}</T>
      <T x={x + 81.5} y={y - 0.5} fontSize={10.5}>×</T>
      <T x={x + 90} y={y + 1.5} fontSize={15}>(</T>
      <T x={x + 95} y={y} fontSize={fs}>Q</T>
      <T x={x + 106.3} y={y} fontSize={fs} fill="#666">/</T>
      <T x={x + 112.3} y={y} fontSize={fs}>Q</T>
      <T x={x + 122.3} y={y + 3} fontSize={sub}>GM</T>
      <T x={x + 137} y={y + 1.5} fontSize={15}>)</T>
      <T x={x + 142.5} y={y - 8} fontSize={sub}>{exp}</T>
    </g>
  );
}

function XTitle({ cx }: { cx: number }) {
  const y = 396;
  return (
    <g>
      <T x={cx - 37} y={y} fontSize={15.5}>Q</T>
      <T x={cx - 23.5} y={y} fontSize={15.5} fill="#777">/</T>
      <T x={cx - 16.4} y={y} fontSize={15.5}>Q</T>
      <T x={cx - 4} y={y + 3} fontSize={11}>GM</T>
      <T x={cx + 22} y={y} fontSize={15.5}>(-)</T>
    </g>
  );
}

function YTitle({ x, main, sub, unit }: { x: number; main: string; sub?: string; unit: string }) {
  const cy = (PLOT_TOP + PLOT_BOTTOM) / 2;
  return (
    <text transform={`translate(${x},${cy}) rotate(-90)`} textAnchor="middle" fontFamily={FONT} fontSize={15.5} fill="#111">
      {main}
      {sub ? (
        <tspan fontSize={11} dy={3}>{sub}</tspan>
      ) : null}
      <tspan dy={sub ? -3 : 0}>{'\u00a0\u00a0' + unit}</tspan>
    </text>
  );
}

const P1 = { left: 0, plotLeft: 86, plotRight: 373.3 };
const P2 = { left: 395, plotLeft: 488.3, plotRight: 776.7 };
const P3 = { left: 788, plotLeft: 891.7, plotRight: 1179.7 };

export default function App() {
  return (
    <div style={{ position: 'absolute', left: 0, top: 0, width: 1183, height: 406, background: '#fff', overflow: 'hidden' }}>
      <Panel
        {...P1}
        xDomain={[0.157, 13.55]}
        yDomain={[0.397, 254.7]}
        yTicks={sscTicks}
        yDigits={1}
        points={[...mrlPoints, ...mrlPointsCore]}
        band={toBand(mrlBandX, mrlInnerLo, mrlInnerHi, mrlOuterLo, mrlOuterHi)}
        bandType="linear"
        innerFill="#767676"
        outerFill="#bdbdbd"
        line={toLine(mrlLineX, mrlLineY)}
        lineColor="#111"
      />
      <Panel
        {...P2}
        xDomain={[0.156, 13.57]}
        yDomain={[0.0448, 1.094]}
        yTicks={loiTicks}
        yDigits={2}
        points={[...loiPoints, ...loiPointsCore]}
        band={toBand(loiBandX, loiInnerLo, loiInnerHi, loiOuterLo, loiOuterHi)}
        bandType="linear"
        innerFill="#767676"
        outerFill="#bdbdbd"
        line={toLine(loiLineX, loiLineY)}
        lineColor="#111"
      />
      <Panel
        {...P3}
        xDomain={[0.126, 13.02]}
        yDomain={[0.397, 254.7]}
        yTicks={sscTicks}
        yDigits={1}
        points={[...totPoints, ...totPointsCore]}
        band={toBand(totBandX, totInnerLo, totInnerHi, totOuterLo, totOuterHi)}
        bandType="monotone"
        innerFill="#868686"
        outerFill="#b3b3b3"
        line={toLine(totLineX, totLineY)}
        lineColor="#111"
      />
      <svg width={1183} height={406} style={{ position: 'absolute', left: 0, top: 0, pointerEvents: 'none' }}>
        {[P1, P2, P3].map((p, i) => (
          <rect key={i} x={p.plotLeft} y={PLOT_TOP} width={p.plotRight - p.plotLeft} height={PLOT_BOTTOM - PLOT_TOP} fill="none" stroke="#333" strokeWidth={1.3} />
        ))}
        <FormulaLegend x={131} y={29} coef="5.26" exp="1.37" />
        <FormulaLegend x={533.7} y={316} coef="0.32" exp="−0.47" />
        <g>
          <line x1={903} x2={925} y1={20.5} y2={20.5} stroke="#bdbdbd" strokeWidth={1} />
          <text x={936} y={24.5} fontFamily={FONT} fontSize={12.5} fill="#111">
            modelled SSC<tspan fontSize={8.75} dy={2.5}>tot</tspan>
          </text>
          <line x1={903} x2={925} y1={35.5} y2={35.5} stroke="#111" strokeWidth={1} strokeDasharray="5 3.3" />
          <text x={936} y={39.5} fontFamily={FONT} fontSize={12.5} fill="#111">
            average SSC<tspan fontSize={8.75} dy={2.5}>mrl</tspan>
            <tspan dy={-2.5}>-rating</tspan>
          </text>
        </g>
        <XTitle cx={(P1.plotLeft + P1.plotRight) / 2} />
        <XTitle cx={(P2.plotLeft + P2.plotRight) / 2} />
        <XTitle cx={(P3.plotLeft + P3.plotRight) / 2} />
        <YTitle x={P1.plotLeft - 64.3} main="SSC" sub="mrl" unit="(mg/l)" />
        <YTitle x={P2.plotLeft - 63.3} main="LOI" unit="(-)" />
        <YTitle x={P3.plotLeft - 64.3} main="SSC" sub="tot" unit="(mg/l)" />
      </svg>
    </div>
  );
}
